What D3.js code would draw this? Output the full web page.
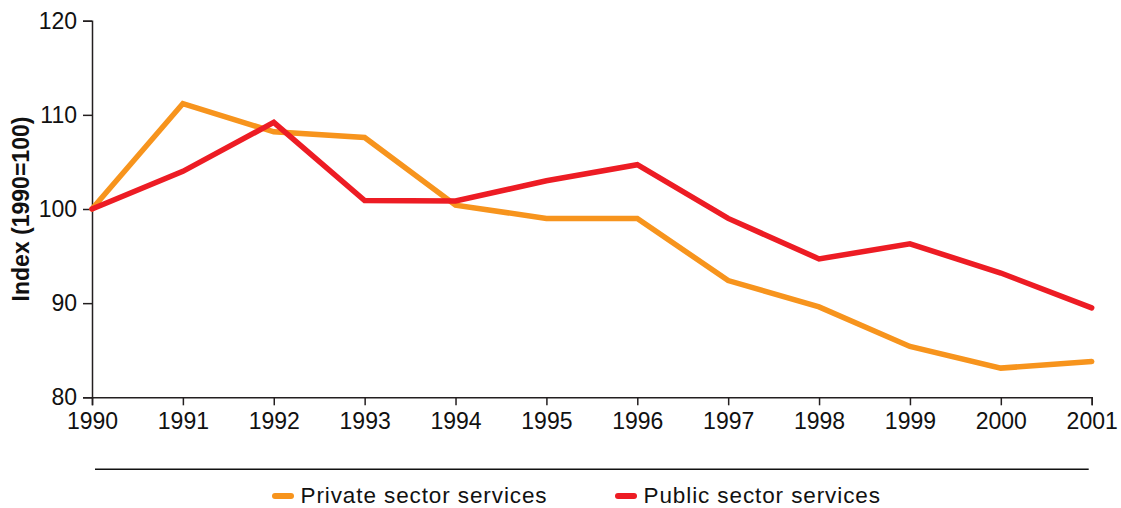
<!DOCTYPE html>
<html>
<head>
<meta charset="utf-8">
<script src="https://cdn.jsdelivr.net/npm/d3@7"></script>
<style>
  html, body { margin: 0; padding: 0; background: #fff; }
  svg { display: block; font-family: "Liberation Sans", Arial, sans-serif; }
</style>
</head>
<body>
<svg id="chart" width="1121" height="508"></svg>
<script>
// Index of service output, 1990 = 100
const years = [1990, 1991, 1992, 1993, 1994, 1995, 1996, 1997, 1998, 1999, 2000, 2001];
const privateSector = [100, 111.2, 108.2, 107.6, 100.4, 99.0, 99.0, 92.4, 89.6, 85.4, 83.1, 83.8];
const publicSector = [100, 104.0, 109.2, 100.9, 100.85, 103.0, 104.7, 99.0, 94.7, 96.3, 93.2, 89.5];
const yTicks = [80, 90, 100, 110, 120];
const seriesNames = ["Private sector services", "Public sector services"];
const seriesColors = ["#F7941D", "#ED1C24"];
const yTitle = "Index (1990=100)";

const svg = d3.select("#chart");
const margin = { left: 92, top: 20.7, right: 29.3, bottom: 110.7 };
const W = 1121, H = 508;
const x = d3.scaleLinear().domain([1990, 2001]).range([margin.left, W - margin.right]);
const y = d3.scaleLinear().domain([80, 120]).range([H - margin.bottom, margin.top]);

const axisColor = "#231f20";

// y axis
const gy = svg.append("g")
  .attr("transform", `translate(${margin.left},0)`)
  .call(d3.axisLeft(y).tickValues(yTicks).tickSize(9).tickPadding(6).tickFormat(d3.format("d")));
// x axis
const gx = svg.append("g")
  .attr("transform", `translate(0,${y(80)})`)
  .call(d3.axisBottom(x).tickValues(years).tickSize(8).tickPadding(7).tickFormat(d3.format("d")));

[gx, gy].forEach(g => {
  g.select(".domain").attr("stroke", axisColor).attr("stroke-width", 1.5);
  g.selectAll(".tick line").attr("stroke", axisColor).attr("stroke-width", 1.5);
  g.selectAll(".tick text").attr("fill", "#111").attr("font-size", 23)
    .attr("font-family", "Liberation Sans, Arial, sans-serif");
});

// y axis title
svg.append("text")
  .attr("transform", `translate(29,${y(100)}) rotate(-90)`)
  .attr("text-anchor", "middle")
  .attr("font-weight", "bold")
  .attr("font-size", 23)
  .attr("fill", "#111")
  .text(yTitle);

// series lines
const line = d3.line().x((d, i) => x(years[i])).y(d => y(d));
[privateSector, publicSector].forEach((vals, i) => {
  svg.append("path")
    .datum(vals)
    .attr("fill", "none")
    .attr("stroke", seriesColors[i])
    .attr("stroke-width", 5.5)
    .attr("stroke-linejoin", "miter")
    .attr("stroke-linecap", "round")
    .attr("d", line);
});

// separator above legend
svg.append("line")
  .attr("x1", 95).attr("x2", 1088.7)
  .attr("y1", 469.3).attr("y2", 469.3)
  .attr("stroke", "#111").attr("stroke-width", 1.5);

// legend
const legendX = [275, 618];
const legend = svg.append("g");
seriesNames.forEach((name, i) => {
  const g = legend.append("g").attr("transform", `translate(${legendX[i]},496)`);
  g.append("line")
    .attr("x1", 0).attr("x2", 16)
    .attr("stroke", seriesColors[i])
    .attr("stroke-width", 6)
    .attr("stroke-linecap", "round");
  g.append("text")
    .attr("x", 25.5).attr("y", 6.5)
    .attr("font-size", 22.5)
    .attr("letter-spacing", 0.9)
    .attr("fill", "#111")
    .text(name);
});
</script>
</body>
</html>
